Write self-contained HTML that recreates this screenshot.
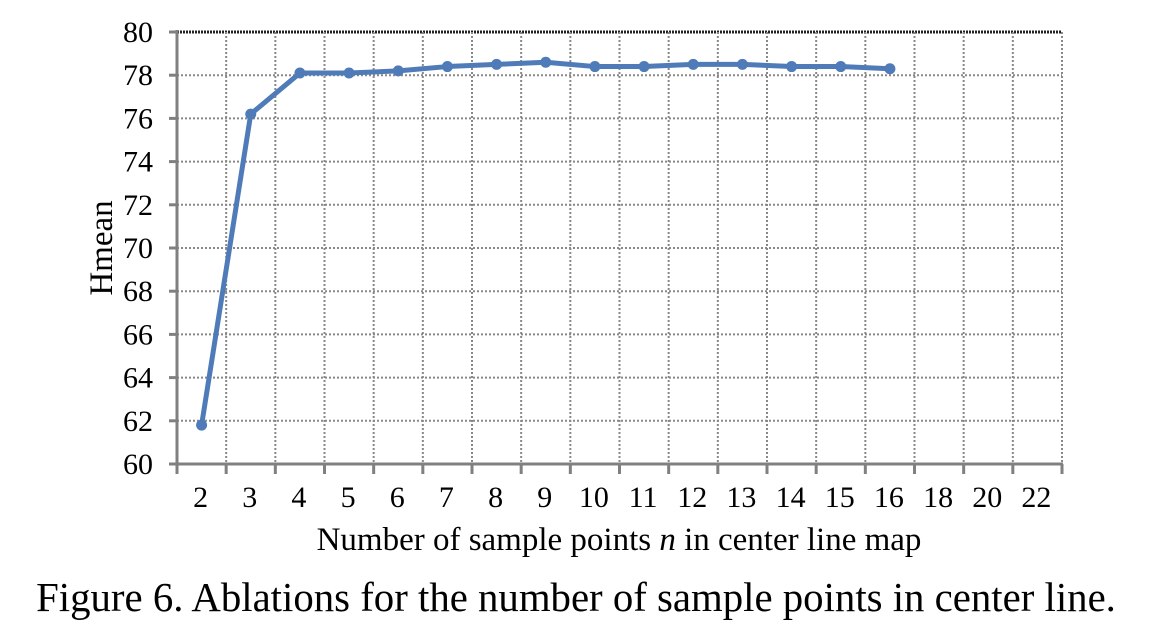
<!DOCTYPE html>
<html><head><meta charset="utf-8"><style>
body{margin:0;background:#fff;width:1164px;height:632px;overflow:hidden;font-family:"Liberation Serif",serif;}
</style></head><body>
<svg id="chart" width="1164" height="632" xmlns="http://www.w3.org/2000/svg" font-family="Liberation Serif, serif">
<g id="grid"></g>
<g id="axes"></g>
<g id="series"></g>
<text x="112" y="248" font-size="33" text-anchor="middle" transform="rotate(-90 112 248)">Hmean</text>
<text x="619" y="550" font-size="33" text-anchor="middle">Number of sample points <tspan font-style="italic">n</tspan> in center line map</text>
<text x="576" y="611" font-size="40.8" text-anchor="middle">Figure 6. Ablations for the number of sample points in center line.</text>
</svg>
<script>
const categories=["2","3","4","5","6","7","8","9","10","11","12","13","14","15","16","18","20","22"];
const hmean=[61.8,76.2,78.1,78.1,78.2,78.4,78.5,78.6,78.4,78.4,78.5,78.5,78.4,78.4,78.3];
const yTicks=[60,62,64,66,68,70,72,74,76,78,80];
const NS="http://www.w3.org/2000/svg";
const L=177,R=1062,T=32,B=464,yMin=60,yMax=80;
const bw=(R-L)/categories.length;
const xc=i=>L+bw*(i+0.5);
const y=v=>B-(v-yMin)/(yMax-yMin)*(B-T);
function mk(p,tag,a){const e=document.createElementNS(NS,tag);for(const k in a)e.setAttribute(k,a[k]);p.appendChild(e);return e;}
const grid=document.getElementById('grid'),axes=document.getElementById('axes'),ser=document.getElementById('series');
yTicks.forEach(v=>{
  if(v>yMin&&v<yMax){const l=mk(grid,'line',{x1:L,x2:R,y1:y(v),y2:y(v),stroke:'#888','stroke-width':2,'stroke-dasharray':'2,2'});
  
  }
  const t=mk(axes,'line',{x1:L-8,x2:L,y1:y(v),y2:y(v),stroke:'#808080','stroke-width':3});
  
  
  const tx=mk(axes,'text',{x:L-24,y:y(v)+10,'font-size':30,'text-anchor':'end'});tx.textContent=v;
  
  
});
mk(grid,'line',{x1:L,x2:R,y1:T,y2:T,stroke:'#222','stroke-width':3,'stroke-dasharray':'2,1'});
for(let i=1;i<=categories.length;i++){
  const x=L+bw*i;
  const g=mk(grid,'line',{x1:x,x2:x,y1:T,y2:B,stroke:'#888','stroke-width':2,'stroke-dasharray':'2,2'});
  
  
}
for(let i=0;i<=categories.length;i++){
  const x=L+bw*i;
  const t=mk(axes,'line',{x1:x,x2:x,y1:B,y2:B+10,stroke:'#808080','stroke-width':3});
  
  
}
categories.forEach((c,i)=>{
  const t=mk(axes,'text',{x:xc(i)-1,y:B+43,'font-size':30,'text-anchor':'middle'});t.textContent=c;
  
  
});
mk(axes,'line',{x1:L,x2:L,y1:T-2,y2:B+1.5,stroke:'#808080','stroke-width':3});
mk(axes,'line',{x1:L-8,x2:R+1,y1:B,y2:B,stroke:'#808080','stroke-width':3});
const pl=mk(ser,'polyline',{points:hmean.map((v,i)=>xc(i)+','+y(v)).join(' '),fill:'none',stroke:'#4f7bb8','stroke-width':5,'stroke-linejoin':'round'});


hmean.forEach((v,i)=>{
  const c=mk(ser,'circle',{cx:xc(i),cy:y(v),r:5.5,fill:'#4f7bb8'});
  
  
});
</script>
</body></html>
